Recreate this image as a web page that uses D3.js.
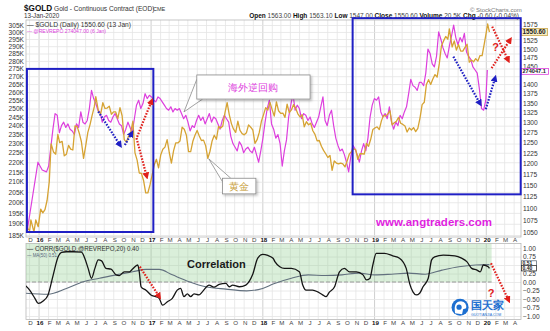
<!DOCTYPE html>
<html><head><meta charset="utf-8">
<script src="https://cdn.jsdelivr.net/npm/d3@7"></script>
<style>
body{margin:0;background:#fff}
svg{display:block}
text{font-family:"Liberation Sans",Arial,sans-serif}
</style>
</head><body>
<svg id="c" width="550" height="331"></svg>
<script>
// ---------- DATA ----------
const leftTicks = [305,300,295,290,285,280,275,270,265,260,255,250,245,240,235,230,225,220,215,210,205,200,195,190,185];
// 1550 and 1425 are covered by the last-value boxes in the original
const rightTicks = [1575,1525,1500,1475,1450,1400,1375,1350,1325,1300,1275,1250,1225,1200,1175,1150,1125,1100,1075,1050];
// 0.50 is covered by the last-value boxes in the original
const corrTicks = [1,0.75,0.25,0,-0.25,-0.5,-0.75,-1];
const corrGrid = [1,0.75,0.5,0.25,0,-0.25,-0.5,-0.75,-1];
const monthLetters = ["J","F","M","A","M","J","J","A","S","O","N","D"];

const gold = [
["2015-11-20",1077],["2015-11-27",1057],["2015-12-03",1053],["2015-12-07",1075],["2015-12-17",1050],["2015-12-23",1075],["2015-12-31",1061],
["2016-01-08",1098],["2016-01-15",1090],["2016-01-22",1097],["2016-01-29",1117],["2016-02-05",1158],["2016-02-11",1247],["2016-02-19",1227],["2016-02-26",1222],
["2016-03-04",1270],["2016-03-10",1250],["2016-03-18",1253],["2016-03-25",1218],["2016-04-01",1222],["2016-04-08",1243],["2016-04-15",1234],["2016-04-22",1232],
["2016-04-29",1291],["2016-05-06",1290],["2016-05-13",1273],["2016-05-20",1252],["2016-05-27",1212],["2016-06-03",1242],["2016-06-10",1275],["2016-06-17",1294],
["2016-06-24",1318],["2016-07-01",1340],["2016-07-06",1367],["2016-07-15",1328],["2016-07-22",1322],["2016-07-29",1351],["2016-08-05",1336],["2016-08-12",1337],
["2016-08-19",1342],["2016-08-26",1321],["2016-09-02",1327],["2016-09-09",1327],["2016-09-16",1310],["2016-09-23",1338],["2016-09-30",1317],["2016-10-07",1257],
["2016-10-14",1251],["2016-10-21",1266],["2016-10-28",1275],["2016-11-04",1303],["2016-11-11",1225],["2016-11-18",1208],["2016-11-25",1178],["2016-12-02",1177],
["2016-12-09",1161],["2016-12-16",1133],["2016-12-23",1133],["2016-12-30",1151],["2017-01-06",1173],["2017-01-13",1197],["2017-01-20",1210],["2017-01-27",1190],
["2017-02-03",1220],["2017-02-10",1234],["2017-02-17",1239],["2017-02-24",1257],["2017-03-03",1226],["2017-03-10",1201],["2017-03-17",1230],["2017-03-24",1249],
["2017-03-31",1249],["2017-04-07",1254],["2017-04-14",1288],["2017-04-21",1283],["2017-04-28",1268],["2017-05-05",1228],["2017-05-12",1228],["2017-05-19",1253],
["2017-05-26",1268],["2017-06-02",1280],["2017-06-09",1266],["2017-06-16",1255],["2017-06-23",1256],["2017-06-30",1242],["2017-07-07",1212],["2017-07-14",1229],
["2017-07-21",1254],["2017-07-28",1268],["2017-08-04",1258],["2017-08-11",1290],["2017-08-18",1286],["2017-08-25",1291],["2017-09-01",1325],["2017-09-08",1351],
["2017-09-15",1320],["2017-09-22",1297],["2017-09-29",1283],["2017-10-06",1275],["2017-10-13",1303],["2017-10-20",1280],["2017-10-27",1272],["2017-11-03",1269],
["2017-11-10",1274],["2017-11-17",1294],["2017-11-24",1288],["2017-12-01",1281],["2017-12-08",1248],["2017-12-15",1257],["2017-12-22",1275],["2017-12-29",1303],
["2018-01-05",1320],["2018-01-12",1338],["2018-01-19",1332],["2018-01-26",1352],["2018-02-02",1333],["2018-02-09",1316],["2018-02-16",1353],["2018-02-23",1330],
["2018-03-02",1323],["2018-03-09",1324],["2018-03-16",1313],["2018-03-23",1347],["2018-03-30",1325],["2018-04-06",1332],["2018-04-13",1346],["2018-04-20",1336],
["2018-04-27",1322],["2018-05-04",1314],["2018-05-11",1320],["2018-05-18",1289],["2018-05-25",1302],["2018-06-01",1294],["2018-06-08",1298],["2018-06-15",1279],
["2018-06-22",1270],["2018-06-29",1254],["2018-07-06",1255],["2018-07-13",1241],["2018-07-20",1231],["2018-07-27",1223],["2018-08-03",1214],["2018-08-10",1219],
["2018-08-17",1184],["2018-08-24",1206],["2018-08-31",1201],["2018-09-07",1199],["2018-09-14",1201],["2018-09-21",1199],["2018-09-28",1192],["2018-10-05",1206],
["2018-10-12",1222],["2018-10-19",1228],["2018-10-26",1235],["2018-11-02",1233],["2018-11-09",1210],["2018-11-16",1223],["2018-11-23",1223],["2018-11-30",1222],
["2018-12-07",1248],["2018-12-14",1241],["2018-12-21",1258],["2018-12-28",1282],["2019-01-04",1286],["2019-01-11",1289],["2019-01-18",1282],["2019-01-25",1304],
["2019-02-01",1318],["2019-02-08",1316],["2019-02-15",1322],["2019-02-22",1330],["2019-03-01",1294],["2019-03-08",1299],["2019-03-15",1303],["2019-03-22",1313],
["2019-03-29",1298],["2019-04-05",1295],["2019-04-12",1291],["2019-04-19",1276],["2019-04-26",1286],["2019-05-03",1281],["2019-05-10",1287],["2019-05-17",1277],
["2019-05-24",1285],["2019-05-31",1311],["2019-06-07",1346],["2019-06-14",1352],["2019-06-21",1400],["2019-06-28",1413],["2019-07-05",1400],["2019-07-12",1415],
["2019-07-19",1427],["2019-07-26",1420],["2019-08-02",1457],["2019-08-09",1509],["2019-08-16",1524],["2019-08-23",1537],["2019-08-30",1529],["2019-09-04",1560],
["2019-09-13",1506],["2019-09-20",1524],["2019-09-27",1497],["2019-10-04",1513],["2019-10-11",1494],["2019-10-18",1494],["2019-10-25",1505],["2019-11-01",1514],
["2019-11-08",1462],["2019-11-15",1468],["2019-11-22",1463],["2019-11-29",1472],["2019-12-06",1465],["2019-12-13",1481],["2019-12-20",1481],["2019-12-27",1515],
["2020-01-03",1552],["2020-01-07",1575],["2020-01-10",1562],["2020-01-13",1550.6]
];

const revrepo = [
["2015-11-25",187],["2015-12-30",220],["2016-01-13",216],["2016-01-27",215],["2016-02-03",218],["2016-02-17",238],["2016-02-24",247],["2016-03-02",246],
["2016-03-09",236],["2016-03-16",240],["2016-03-23",242],["2016-03-30",239],["2016-04-06",241],["2016-04-13",238],["2016-04-20",237],["2016-04-27",235],
["2016-05-04",241],["2016-05-11",239],["2016-05-18",248],["2016-05-25",242],["2016-06-01",241],["2016-06-08",243],["2016-06-15",250],["2016-06-22",261],
["2016-06-29",256],["2016-07-06",253],["2016-07-13",249],["2016-07-20",248],["2016-07-27",242],["2016-08-03",245],["2016-08-10",246],["2016-08-17",243],
["2016-08-24",242],["2016-08-31",245],["2016-09-07",247],["2016-09-14",244],["2016-09-21",241],["2016-09-28",240],["2016-10-05",235],["2016-10-12",238],
["2016-10-19",242],["2016-10-26",239],["2016-11-02",236],["2016-11-09",244],["2016-11-16",252],["2016-11-23",255],["2016-11-30",250],["2016-12-07",253],
["2016-12-14",259],["2016-12-21",256],["2016-12-28",258],["2017-01-04",257],["2017-01-11",255],["2017-01-18",254],["2017-01-25",257],["2017-02-01",256],
["2017-02-08",254],["2017-02-15",252],["2017-02-22",250],["2017-03-01",249],["2017-03-08",251],["2017-03-15",248],["2017-03-22",250],["2017-03-29",249],
["2017-04-05",250],["2017-04-12",247],["2017-04-19",244],["2017-04-26",246],["2017-05-03",242],["2017-05-10",237],["2017-05-17",240],["2017-05-24",239],
["2017-05-31",243],["2017-06-07",246],["2017-06-14",243],["2017-06-21",245],["2017-06-28",241],["2017-07-05",244],["2017-07-12",247],["2017-07-19",242],
["2017-07-26",245],["2017-08-02",244],["2017-08-09",241],["2017-08-16",238],["2017-08-23",243],["2017-08-30",246],["2017-09-06",244],["2017-09-13",242],
["2017-09-20",234],["2017-09-27",230],["2017-10-04",228],["2017-10-11",226],["2017-10-18",231],["2017-10-25",229],["2017-11-01",225],["2017-11-08",227],
["2017-11-15",228],["2017-11-22",226],["2017-11-29",225],["2017-12-06",228],["2017-12-13",224],["2017-12-20",220],["2017-12-27",226],["2018-01-03",233],
["2018-01-10",242],["2018-01-17",250],["2018-01-24",255],["2018-01-31",241],["2018-02-07",238],["2018-02-14",233],["2018-02-21",235],["2018-02-28",230],
["2018-03-07",218],["2018-03-14",226],["2018-03-21",232],["2018-03-28",245],["2018-04-04",252],["2018-04-11",259],["2018-04-18",249],["2018-04-25",252],
["2018-05-02",250],["2018-05-09",244],["2018-05-16",247],["2018-05-23",246],["2018-05-30",243],["2018-06-06",245],["2018-06-13",241],["2018-06-20",239],
["2018-06-27",242],["2018-07-04",245],["2018-07-11",251],["2018-07-18",257],["2018-07-25",243],["2018-08-01",240],["2018-08-08",246],["2018-08-15",249],
["2018-08-22",240],["2018-08-29",233],["2018-09-05",229],["2018-09-12",226],["2018-09-19",227],["2018-09-26",224],["2018-10-03",220],["2018-10-10",215],
["2018-10-17",223],["2018-10-24",229],["2018-10-31",227],["2018-11-07",224],["2018-11-14",220],["2018-11-21",226],["2018-11-28",230],["2018-12-05",226],
["2018-12-12",233],["2018-12-19",245],["2018-12-26",252],["2019-01-02",256],["2019-01-09",255],["2019-01-16",257],["2019-01-23",248],["2019-01-30",245],
["2019-02-06",247],["2019-02-13",244],["2019-02-20",251],["2019-02-27",242],["2019-03-06",238],["2019-03-13",242],["2019-03-20",240],["2019-03-27",246],
["2019-04-03",244],["2019-04-10",248],["2019-04-17",251],["2019-04-24",259],["2019-05-01",268],["2019-05-08",264],["2019-05-15",263],["2019-05-22",261],
["2019-05-29",266],["2019-06-05",266],["2019-06-12",264],["2019-06-19",272],["2019-06-26",288],["2019-07-03",285],["2019-07-10",278],["2019-07-17",276],
["2019-07-24",283],["2019-07-31",300],["2019-08-07",295],["2019-08-14",289],["2019-08-21",285],["2019-08-28",282],["2019-09-04",290],["2019-09-11",297],
["2019-09-18",305],["2019-09-25",296],["2019-10-02",291],["2019-10-09",296],["2019-10-16",293],["2019-10-23",299],["2019-10-30",286],["2019-11-06",283],
["2019-11-13",281],["2019-11-20",276],["2019-11-27",274],["2019-12-04",272],["2019-12-11",262],["2019-12-18",250],["2019-12-25",249],["2020-01-01",255],
["2020-01-06",274.047]
];

const corr = [
["2015-11-17",-0.09],["2015-12-03",-0.24],["2015-12-20",-0.48],["2015-12-31",-0.63],["2016-01-16",-0.56],["2016-02-01",-0.38],["2016-02-18",0.21],
["2016-03-05",0.74],["2016-03-16",0.87],["2016-04-01",0.89],["2016-04-24",0.89],["2016-05-20",0.88],["2016-05-31",0.70],["2016-06-11",0.40],
["2016-06-22",0.11],["2016-07-03",0.40],["2016-07-14",0.65],["2016-07-25",0.62],["2016-08-08",0.40],["2016-08-25",0.38],["2016-09-10",0.21],
["2016-09-21",0.19],["2016-10-07",0.30],["2016-10-24",0.30],["2016-11-03",0.38],["2016-11-20",0.50],["2016-11-25",0.30],["2016-12-01",-0.14],
["2016-12-17",-0.24],["2017-01-02",-0.38],["2017-01-18",-0.43],["2017-01-29",-0.48],["2017-02-09",-0.68],["2017-02-25",-0.58],["2017-03-13",-0.48],
["2017-03-29",-0.24],["2017-04-09",-0.19],["2017-04-20",-0.43],["2017-05-01",-0.35],["2017-05-12",-0.43],["2017-05-23",-0.35],["2017-06-08",-0.38],
["2017-06-19",-0.29],["2017-07-11",-0.09],["2017-07-27",-0.15],["2017-08-13",-0.07],["2017-09-04",-0.04],["2017-09-15",-0.14],["2017-09-26",-0.09],
["2017-10-18",-0.14],["2017-11-08",-0.09],["2017-11-30",0.21],["2017-12-17",0.70],["2018-01-02",0.81],["2018-01-19",0.78],["2018-02-05",0.70],
["2018-02-11",0.60],["2018-02-27",0.45],["2018-03-14",0.40],["2018-04-06",0.40],["2018-05-02",0.30],["2018-05-13",-0.09],["2018-05-24",-0.24],
["2018-06-14",-0.24],["2018-07-01",-0.29],["2018-07-17",-0.38],["2018-07-28",-0.43],["2018-08-08",-0.30],["2018-08-25",-0.14],["2018-09-10",0.30],
["2018-09-26",0.40],["2018-10-13",0.30],["2018-11-04",0.30],["2018-11-26",0.21],["2018-12-07",0.06],["2018-12-18",0.10],["2018-12-28",0.50],
["2019-01-08",0.84],["2019-02-04",0.84],["2019-03-03",0.77],["2019-03-25",0.70],["2019-04-16",0.40],["2019-04-27",-0.04],["2019-05-08",-0.29],
["2019-05-19",-0.38],["2019-05-30",-0.33],["2019-06-10",-0.14],["2019-06-27",0.11],["2019-07-08",0.65],["2019-07-18",0.74],["2019-08-15",0.79],
["2019-09-22",0.77],["2019-10-14",0.70],["2019-10-31",0.60],["2019-11-16",0.40],["2019-12-03",0.35],["2019-12-14",0.30],["2019-12-24",0.50],
["2020-01-09",0.45],["2020-01-13",0.40]
];

const corrMA = [
["2015-11-17",-0.33],["2016-02-01",-0.36],["2016-04-01",-0.19],["2016-05-26",0.01],["2016-07-18",0.11],["2016-09-10",0.21],["2016-11-03",0.30],
["2016-12-17",0.37],["2017-01-29",0.37],["2017-03-13",0.21],["2017-05-07",0.01],["2017-06-30",-0.14],["2017-09-04",-0.21],["2017-11-11",-0.26],
["2018-01-02",-0.19],["2018-02-05",-0.06],["2018-04-06",0.11],["2018-05-31",0.21],["2018-07-25",0.19],["2018-09-18",0.21],["2018-11-12",0.26],
["2019-01-03",0.21],["2019-02-27",0.23],["2019-04-23",0.26],["2019-06-17",0.23],["2019-08-11",0.35],["2019-10-05",0.45],["2019-11-29",0.50],
["2020-01-13",0.51]
];

// ---------- LAYOUT ----------
const parse = d3.timeParse("%Y-%m-%d");
const X0 = 26, X1 = 521, MT = 20, MB = 237, LT = 243.5, LB = 319.5;
const svg = d3.select("#c");
const x = d3.scaleTime().domain([parse("2015-11-21"), parse("2020-04-25")]).range([X0, X1]);
const yL = d3.scaleLog().domain([185, 305]).range([235, 25]);
const yR = d3.scaleLog().domain([1050, 1575]).range([232, 24]);
const yC = d3.scaleLinear().domain([-1, 1]).range([316, 248]);
const months = d3.timeMonth.range(x.domain()[0], x.domain()[1]);

const GOLD = "#d6a333", MAG = "#dd3fdd", BLUE = "#1f1fc4", RED = "#e0201c";

svg.append("rect").attr("width",550).attr("height",331).attr("fill","#fff");

// defs
const defs = svg.append("defs");
defs.append("clipPath").attr("id","cm").append("rect").attr("x",X0).attr("y",MT).attr("width",X1-X0).attr("height",MB-MT);
defs.append("clipPath").attr("id","cl").append("rect").attr("x",X0).attr("y",LT).attr("width",X1-X0).attr("height",LB-LT);
[["ar",RED],["ab",BLUE]].forEach(([id,c])=>{
  defs.append("marker").attr("id",id).attr("viewBox","0 0 10 10").attr("refX",5).attr("refY",5)
    .attr("markerWidth",3.2).attr("markerHeight",3.2).attr("orient","auto-start-reverse").attr("markerUnits","strokeWidth")
    .append("path").attr("d","M0,0L10,5L0,10z").attr("fill",c);
});
const sh = defs.append("filter").attr("id","sh").attr("x","-10%").attr("y","-10%").attr("width","130%").attr("height","140%");
sh.append("feDropShadow").attr("dx",1.5).attr("dy",1.5).attr("stdDeviation",1).attr("flood-color","#000").attr("flood-opacity",0.25);

// ---------- GRIDS ----------
function vgrid(top, bottom){
  const g = svg.append("g").attr("transform",`translate(0,${bottom})`)
    .call(d3.axisBottom(x).tickValues(months).tickSize(-(bottom-top)).tickFormat(""));
  g.select(".domain").remove();
  g.selectAll(".tick line").attr("stroke",d=>d.getMonth()===0?"#c4c4c4":"#e4e4e4").attr("stroke-width",0.8);
}
vgrid(MT, MB);
vgrid(LT, LB);
const hg = svg.append("g").attr("transform",`translate(${X0},0)`)
  .call(d3.axisLeft(yL).tickValues(leftTicks).tickSize(-(X1-X0)).tickFormat(""));
hg.select(".domain").remove();
hg.selectAll(".tick line").attr("stroke","#e4e4e4").attr("stroke-width",0.8);
const hc = svg.append("g").attr("transform",`translate(${X0},0)`)
  .call(d3.axisLeft(yC).tickValues(corrGrid).tickSize(-(X1-X0)).tickFormat(""));
hc.select(".domain").remove();
hc.selectAll(".tick line").attr("stroke","#e4e4e4").attr("stroke-width",0.8);

// panel borders
svg.append("rect").attr("x",X0).attr("y",MT).attr("width",X1-X0).attr("height",MB-MT).attr("fill","none").attr("stroke","#b8b8b8").attr("stroke-width",0.8);
svg.append("rect").attr("x",X0).attr("y",LT).attr("width",X1-X0).attr("height",LB-LT).attr("fill","none").attr("stroke","#b8b8b8").attr("stroke-width",0.8);

// ---------- AXES LABELS ----------
function styleAxis(g, size){
  g.select(".domain").remove();
  g.selectAll(".tick line").remove();
  g.selectAll("text").attr("font-family","'Liberation Sans',Arial,sans-serif").attr("font-size",size).attr("fill","#333");
}
styleAxis(svg.append("g").attr("transform","translate(24,0)")
  .call(d3.axisLeft(yL).tickValues(leftTicks).tickSize(0).tickPadding(0).tickFormat(d=>d+"K")), 6.6);
styleAxis(svg.append("g").attr("transform","translate(523,0)")
  .call(d3.axisRight(yR).tickValues(rightTicks).tickSize(0).tickPadding(0).tickFormat(d3.format("d"))), 6.6);
styleAxis(svg.append("g").attr("transform","translate(523,0)")
  .call(d3.axisRight(yC).tickValues(corrTicks).tickSize(0).tickPadding(0).tickFormat(d3.format(".2f"))), 6.6);
function monthAxis(yPos){
  const g = svg.append("g").attr("transform",`translate(1,${yPos})`)
    .call(d3.axisBottom(x).tickValues(months).tickSize(0).tickPadding(1)
      .tickFormat(d=>d.getMonth()===0 ? d3.timeFormat("%y")(d) : monthLetters[d.getMonth()]));
  styleAxis(g, 6.2);
  g.selectAll("text").attr("font-weight",d=>d.getMonth()===0?"bold":"normal").attr("fill",d=>d.getMonth()===0?"#111":"#444");
}
monthAxis(MB);
monthAxis(LB);

// ---------- LOWER PANEL ----------
const lower = svg.append("g").attr("clip-path","url(#cl)");
lower.append("rect").attr("x",X0).attr("y",LT).attr("width",x(parse("2020-01-20"))-X0).attr("height",yC(0)-LT)
  .attr("fill","rgba(140,205,140,0.32)");
lower.append("line").attr("x1",X0).attr("x2",x(parse("2020-01-20"))).attr("y1",yC(0)).attr("y2",yC(0))
  .attr("stroke","#888").attr("stroke-dasharray","4,2").attr("stroke-width",0.8);
const lineC = d3.line().x(d=>x(parse(d[0]))).y(d=>yC(d[1])).curve(d3.curveMonotoneX);
lower.append("path").attr("d",lineC(corrMA)).attr("fill","none").attr("stroke","#62707e").attr("stroke-width",1.1);
lower.append("path").attr("d",lineC(corr)).attr("fill","none").attr("stroke","#151515").attr("stroke-width",1.3);

// ---------- MAIN PANEL LINES ----------
const main = svg.append("g").attr("clip-path","url(#cm)");
const lineL = d3.line().x(d=>x(parse(d[0]))).y(d=>yL(d[1]));
const lineR = d3.line().x(d=>x(parse(d[0]))).y(d=>yR(d[1]));
main.append("path").attr("d",lineL(revrepo)).attr("fill","none").attr("stroke",MAG).attr("stroke-width",1.2).attr("stroke-linejoin","round");
main.append("path").attr("d",lineR(gold)).attr("fill","none").attr("stroke",GOLD).attr("stroke-width",1.3).attr("stroke-linejoin","round");

// ---------- HEADER ----------
svg.append("text").attr("x",24).attr("y",11).attr("font-size",8.2).attr("font-weight","bold").attr("fill","#111").text("$GOLD");
svg.append("text").attr("x",54).attr("y",11).attr("font-size",6.6).attr("fill","#333").text("Gold - Continuous Contract (EOD)");
svg.append("text").attr("x",153).attr("y",11).attr("font-size",5.5).attr("fill","#333").text("CME");
svg.append("text").attr("x",24).attr("y",18).attr("font-size",6.3).attr("fill","#333").text("13-Jan-2020");
svg.append("text").attr("x",470).attr("y",12).attr("font-size",6).attr("fill","#777").text("© StockCharts.com");
const ohlc = svg.append("text").attr("x",519).attr("y",18).attr("text-anchor","end").attr("font-size",6.5).attr("fill","#333");
[["Open ",1],["1563.00 ",0],["High ",1],["1563.10 ",0],["Low ",1],["1547.00 ",0],["Close ",1],["1550.60 ",0],["Volume ",1],["20.5K ",0],["Chg ",1],["-0.60 (-0.04%)",0]]
  .forEach(([t,b])=>ohlc.append("tspan").attr("font-weight",b?"bold":"normal").attr("fill",b?"#111":"#444").text(t));

// legends
svg.append("text").attr("x",27).attr("y",27).attr("font-family","'DejaVu Sans Mono',monospace").attr("font-size",7).attr("fill","#333")
  .attr("textLength",104).attr("lengthAdjust","spacingAndGlyphs").text("— $GOLD (Daily) 1550.60 (13 Jan)");
svg.append("text").attr("x",27).attr("y",32.5).attr("font-size",5.6).attr("fill",MAG)
  .attr("textLength",79).attr("lengthAdjust","spacingAndGlyphs").text("— @REVREPO 274047.00 (6 Jan)");
svg.append("text").attr("x",27).attr("y",251).attr("font-family","'DejaVu Sans Mono',monospace").attr("font-size",6.5).attr("fill","#333")
  .attr("textLength",112).attr("lengthAdjust","spacingAndGlyphs").text("— CORR($GOLD,@REVREPO,20) 0.40");
svg.append("text").attr("x",27).attr("y",257).attr("font-size",5.8).attr("fill","#55657a")
  .attr("textLength",30).attr("lengthAdjust","spacingAndGlyphs").text("— MA(50) 0.51");

// value boxes on right axis
function vbox(y, txt, fill, stroke, w, h, fs){
  svg.append("rect").attr("x",521.5).attr("y",y-h/2).attr("width",w).attr("height",h).attr("fill",fill).attr("stroke",stroke).attr("stroke-width",0.8);
  svg.append("text").attr("x",522.5).attr("y",y+fs*0.36).attr("font-size",fs).attr("font-weight","bold").attr("fill","#222").text(txt);
}
vbox(yR(1550.6), "1550.60", "#f6edc4", "#c9a64a", 26, 7.2, 6.4);
vbox(yL(274.047)+1.5, "274047.1", "#fff", MAG, 27, 5.8, 5.6);
vbox(yC(0.51)-1.2, "0.51", "#fff", "#62707e", 15, 5.4, 5.0);
vbox(yC(0.40)-0.2, "0.40", "#fff", "#333", 15, 5.4, 5.0);

// ---------- ANNOTATIONS (in data coordinates) ----------
const boxes = [["2015-11-24","2017-01-10",1443,1050],["2018-10-23","2020-04-24",1593,1130]];
boxes.forEach(([d0,d1,p0,p1])=>{
  svg.append("rect").attr("x",x(parse(d0))).attr("y",yR(p0)).attr("width",x(parse(d1))-x(parse(d0))).attr("height",yR(p1)-yR(p0))
    .attr("fill","none").attr("stroke",BLUE).attr("stroke-width",2);
});
function arrow(p0, p1, color, marker, ys){
  svg.append("line").attr("x1",x(parse(p0[0]))).attr("y1",ys(p0[1])).attr("x2",x(parse(p1[0]))).attr("y2",ys(p1[1]))
    .attr("stroke",color).attr("stroke-width",2.2).attr("stroke-dasharray","1.6,1.4").attr("marker-end",`url(#${marker})`);
}
arrow(["2016-07-14",1328],["2016-09-23",1244],BLUE,"ab",yR);
arrow(["2016-10-09",1244],["2016-10-31",1273],BLUE,"ab",yR);
arrow(["2016-11-18",1264],["2017-01-04",1355],RED,"ar",yR);
arrow(["2016-11-16",1261],["2016-12-19",1171],RED,"ar",yR);
arrow(["2019-09-17",1478],["2019-12-13",1349],BLUE,"ab",yR);
arrow(["2020-01-01",1334],["2020-01-31",1417],BLUE,"ab",yR);
arrow(["2020-01-22",1567],["2020-03-14",1468],RED,"ar",yR);
arrow(["2020-01-20",1445],["2020-03-20",1527],RED,"ar",yR);
arrow(["2016-11-27",0.45],["2017-01-29",-0.43],RED,"ar",yC);
arrow(["2020-01-18",0.55],["2020-03-15",-0.53],RED,"ar",yC);
svg.append("text").attr("x",x(parse("2020-02-02"))).attr("y",yR(1507)+4).attr("text-anchor","middle")
  .attr("font-size",11).attr("font-weight","bold").attr("fill",RED).text("?");
svg.append("text").attr("x",x(parse("2020-01-18"))).attr("y",yC(-0.33)+4).attr("text-anchor","middle")
  .attr("font-size",11).attr("font-weight","bold").attr("fill",RED).text("?");

// callouts
function callout(d0,d1,v0,v1,ys,tip,tipBase,txt,color){
  const bx0=x(parse(d0)), bx1=x(parse(d1)), by0=ys(v0), by1=ys(v1);
  const tx=x(parse(tip[0])), ty=tip[2](tip[1]);
  svg.append("path").attr("d",`M${x(parse(tipBase[0][0]))},${ys(tipBase[0][1])}L${tx},${ty}L${x(parse(tipBase[1][0]))},${ys(tipBase[1][1])}`)
    .attr("fill","#fff").attr("stroke","#8a8a8a").attr("stroke-width",0.8);
  svg.append("rect").attr("x",bx0).attr("y",by0).attr("width",bx1-bx0).attr("height",by1-by0)
    .attr("fill","#fff").attr("stroke","#8a8a8a").attr("stroke-width",0.8).attr("filter","url(#sh)");
  svg.append("text").attr("x",(bx0+bx1)/2).attr("y",(by0+by1)/2+3.6).attr("text-anchor","middle")
    .attr("font-family","'Noto Sans CJK SC',sans-serif").attr("font-size",10).attr("fill",color).text(txt);
}
callout("2017-06-01","2018-06-06",270.8,255.7,yL,["2017-04-20",248,yL],[["2017-06-01",268],["2017-06-20",255.7]],"海外逆回购",MAG);
callout("2017-08-24","2017-12-11",1166,1131,yR,["2017-07-10",1211,yR],[["2017-08-24",1158],["2017-09-20",1166]],"黄金","#c9a040");

// website
svg.append("text").attr("x",x(parse("2019-07-16"))).attr("y",yR(1062)).attr("text-anchor","middle")
  .attr("font-size",11.5).attr("font-weight","bold").attr("fill","#e01ee0").text("www.angtraders.com");
// Correlation label
svg.append("text").attr("x",x(parse("2017-04-30"))).attr("y",yC(0.41)).attr("font-size",11).attr("font-weight","bold").attr("fill","#1a1a1a").text("Correlation");

// logo
const lx = x(parse("2019-10-09")), ly = yC(-0.74);
svg.append("circle").attr("cx",lx).attr("cy",ly).attr("r",8.5).attr("fill","#1d6fd0");
svg.append("path").attr("d",`M${lx-5},${ly+6}Q${lx-7},${ly-6} ${lx+1},${ly-6}Q${lx+7},${ly-5} ${lx+6},${ly+1}L${lx+3},${ly+2}L${lx+2},${ly+7}Z`).attr("fill","#fff");
svg.append("circle").attr("cx",lx-1).attr("cy",ly).attr("r",2.6).attr("fill","#1d6fd0");
svg.append("text").attr("x",lx+11).attr("y",ly+2).attr("font-family","'Noto Sans CJK SC',sans-serif").attr("font-size",11).attr("font-weight","bold").attr("fill","#1d6fd0").text("国天家");
svg.append("text").attr("x",lx+11).attr("y",ly+8.5).attr("font-size",3.5).attr("fill","#1d6fd0").text("GUOTIANJIA.COM");
</script>
</body></html>
